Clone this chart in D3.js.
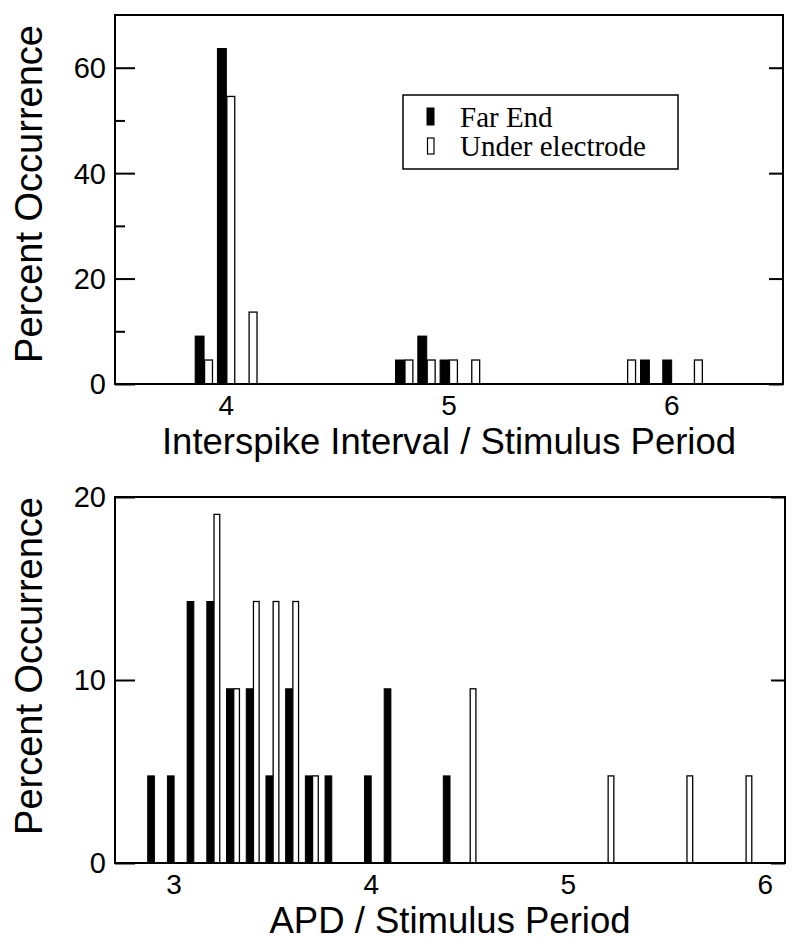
<!DOCTYPE html>
<html><head><meta charset="utf-8">
<script src="https://cdn.jsdelivr.net/npm/d3@7"></script>
<style>body{margin:0;background:#fff}svg{display:block}</style>
</head><body>
<svg id="c" width="800" height="949"></svg>
<script>
// ---- data ----
const seriesNames = ["Far End", "Under electrode"];
const topBins = [3.9, 4.0, 4.1, 4.8, 4.9, 5.0, 5.1, 5.8, 5.9, 6.0, 6.1];
const topFarEnd = [9.09, 63.64, 0, 4.55, 9.09, 4.55, 0, 0, 4.55, 4.55, 0];
const topUnder = [4.55, 54.55, 13.64, 4.55, 4.55, 4.55, 4.55, 4.55, 0, 0, 4.55];
const topXTicks = [4, 5, 6];
const topYTicks = [0, 20, 40, 60];
const topYMinor = [10, 30, 50];

const botBins = [2.9, 3.0, 3.1, 3.2, 3.3, 3.4, 3.5, 3.6, 3.7, 3.8, 4.0, 4.1, 4.4, 4.5, 5.2, 5.6, 5.9];
const botFarEnd = [4.76, 4.76, 14.29, 14.29, 9.52, 9.52, 4.76, 9.52, 4.76, 4.76, 4.76, 9.52, 4.76, 0, 0, 0, 0];
const botUnder = [0, 0, 0, 19.05, 9.52, 14.29, 14.29, 14.29, 4.76, 0, 0, 0, 0, 9.52, 4.76, 4.76, 4.76];
const botXTicks = [3, 4, 5, 6];
const botYTicks = [0, 10, 20];

const svg = d3.select("#c");
const sans = "'Liberation Sans', Arial, Helvetica, sans-serif";
const serif = "'Liberation Serif', 'Times New Roman', serif";

function panel(o) {
  const x = d3.scaleLinear().domain(o.xDomain).range([o.left, o.right]);
  const y = d3.scaleLinear().domain(o.yDomain).range([o.bottom, o.top]);
  const g = svg.append("g");

  // bars
  const far = o.bins.map((b, i) => ({b, v: o.far[i]})).filter(d => d.v > 0);
  const und = o.bins.map((b, i) => ({b, v: o.under[i]})).filter(d => d.v > 0);
  g.selectAll(".far").data(far).enter().append("rect")
    .attr("x", d => x(d.b - o.bw)).attr("width", d => x(d.b) - x(d.b - o.bw))
    .attr("y", d => y(d.v)).attr("height", d => y(0) - y(d.v))
    .attr("fill", "#000").attr("stroke", "#000").attr("stroke-width", 1);
  g.selectAll(".und").data(und).enter().append("rect")
    .attr("x", d => x(d.b) + 0.5).attr("width", d => x(d.b + o.bw) - x(d.b) - 1)
    .attr("y", d => y(d.v)).attr("height", d => y(0) - y(d.v))
    .attr("fill", "#fff").attr("stroke", "#000").attr("stroke-width", 1.3);

  // frame
  g.append("rect").attr("x", o.left).attr("y", o.top)
    .attr("width", o.right - o.left).attr("height", o.bottom - o.top)
    .attr("fill", "none").attr("stroke", "#000").attr("stroke-width", 2);

  // y axis ticks (inside, both sides)
  const yl = d3.axisRight(y).tickValues(o.yTicks).tickSize(20).tickFormat("");
  g.append("g").attr("transform", `translate(${o.left},0)`).call(yl)
    .call(s => { s.select(".domain").remove(); s.selectAll("line").attr("stroke-width", 2); });
  const yr = d3.axisLeft(y).tickValues(o.yTicks).tickSize(14).tickFormat("");
  g.append("g").attr("transform", `translate(${o.right},0)`).call(yr)
    .call(s => { s.select(".domain").remove(); s.selectAll("line").attr("stroke-width", 2); });
  if (o.yMinor) {
    const ym = d3.axisRight(y).tickValues(o.yMinor).tickSize(10).tickFormat("");
    g.append("g").attr("transform", `translate(${o.left},0)`).call(ym)
      .call(s => { s.select(".domain").remove(); s.selectAll("line").attr("stroke-width", 2); });
  }
  // y tick labels
  g.selectAll(".yl").data(o.yTicks).enter().append("text")
    .attr("x", o.left - 9).attr("y", d => y(d)).attr("dy", "0.36em")
    .attr("text-anchor", "end").attr("font-family", sans).attr("font-size", 29)
    .text(d => d);
  // x tick labels
  g.selectAll(".xl").data(o.xTicks).enter().append("text")
    .attr("x", d => x(d)).attr("y", o.bottom + 31)
    .attr("text-anchor", "middle").attr("font-family", sans).attr("font-size", 28)
    .text(d => d);
  // axis titles
  g.append("text").attr("x", (o.left + o.right) / 2).attr("y", o.bottom + 70)
    .attr("text-anchor", "middle").attr("font-family", sans).attr("font-size", 36.5)
    .text(o.xTitle);
  g.append("text").attr("transform", `translate(42,${o.yTitleY}) rotate(-90)`)
    .attr("text-anchor", "middle").attr("font-family", sans).attr("font-size", 38)
    .text("Percent Occurrence");
  return {x, y, g};
}

panel({left: 115, right: 783, top: 15, bottom: 384, xDomain: [3.5, 6.5], yDomain: [0, 70],
  bins: topBins, far: topFarEnd, under: topUnder, bw: 0.04,
  yTicks: topYTicks, yMinor: topYMinor, xTicks: topXTicks,
  xTitle: "Interspike Interval / Stimulus Period", yTitleY: 194});

panel({left: 115, right: 785, top: 497, bottom: 863, xDomain: [2.7, 6.1], yDomain: [0, 20],
  bins: botBins, far: botFarEnd, under: botUnder, bw: 0.034,
  yTicks: botYTicks, yMinor: null, xTicks: botXTicks,
  xTitle: "APD / Stimulus Period", yTitleY: 666});

// legend
const lg = svg.append("g");
lg.append("rect").attr("x", 403).attr("y", 95).attr("width", 275).attr("height", 74)
  .attr("fill", "#fff").attr("stroke", "#000").attr("stroke-width", 1.5);
lg.append("rect").attr("x", 427).attr("y", 108).attr("width", 7).attr("height", 17)
  .attr("fill", "#000").attr("stroke", "#000");
lg.append("rect").attr("x", 427.5).attr("y", 138).attr("width", 6.5).attr("height", 16)
  .attr("fill", "#fff").attr("stroke", "#000").attr("stroke-width", 1.2);
lg.selectAll(".lt").data(seriesNames).enter().append("text")
  .attr("x", 460).attr("y", (d, i) => 127 + i * 29)
  .attr("font-family", serif).attr("font-size", 29).text(d => d);
</script>
</body></html>
